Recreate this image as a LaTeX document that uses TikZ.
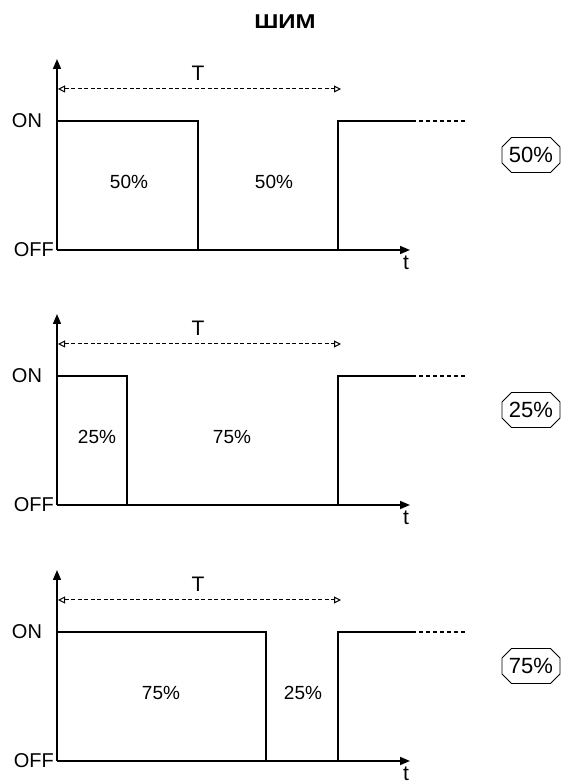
\documentclass[tikz,border=0pt]{standalone}
\usepackage{fontspec}
\setmainfont{Liberation Sans}
\usetikzlibrary{arrows.meta,shapes.misc}
\newcommand{\OnLevel}{129}
\newcommand{\RiseAt}{338}

\begin{document}
\begin{tikzpicture}[x=1pt,y=1pt,every node/.style={font=\fontsize{19}{21}\selectfont,inner sep=1pt},
  signal/.style={line width=2.5pt,line join=miter},
  axisline/.style={line width=1.6pt,-{Triangle[length=10pt,width=8pt]}},
  period/.style={line width=1pt,dash pattern=on 4pt off 2.5pt,{Triangle[open,length=7pt,width=7pt]}-{Triangle[open,length=7pt,width=7pt]}},
  badge/.style={draw,line width=0.9pt,chamfered rectangle,chamfered rectangle xsep=6pt,minimum width=56pt,minimum height=35pt,font=\fontsize{22}{24}\selectfont}]
\useasboundingbox (0,0) rectangle (573,784);
\node[font=\bfseries\fontsize{20}{22}\selectfont] (title) at (285,762) {\scalebox{1.2}[1]{ШИМ}};
\foreach \b/\f/\la/\lb/\pa/\pb in {534/198/129/274/50/50,279/127/97/232/25/75,23/266/161/303/75/25}{
  \coordinate (o) at (57,\b);
  \coordinate (top) at (57,\b+191);
  \coordinate (tend) at (410,\b);
  \coordinate (Tl) at (58,\b+161);
  \coordinate (Tr) at (341,\b+161);
  \coordinate (fade) at (412,\b+\OnLevel);
  \coordinate (stop) at (467,\b+\OnLevel);
  \draw[axisline] (o) -- (top);
  \draw[axisline] (o) -- (tend);
  \draw[period] (Tl) -- (Tr);
  \node[font=\fontsize{21}{23}\selectfont] (T) at (198,\b+177) {T};
  \node[font=\fontsize{21}{23}\selectfont] (t) at (406,\b-13) {t};
  \node[font=\fontsize{20}{22}\selectfont] (on) at (27,\b+\OnLevel) {ON};
  \node[anchor=east,font=\fontsize{20}{22}\selectfont] (off) at (55,\b) {OFF};
  \draw[signal] (57,\b+\OnLevel) -| (\f,\b) -| (\RiseAt,\b+\OnLevel) -- (fade);
  \draw[line width=1.1pt,dash pattern=on 4pt off 3pt] (fade) -- (stop);
  \node (high) at (\la,\b+68) {\pa\%};
  \node (low) at (\lb,\b+68) {\pb\%};
  \node[badge] (duty) at (531,\b+95) {\pa\%};
}
\end{tikzpicture}
\end{document}
